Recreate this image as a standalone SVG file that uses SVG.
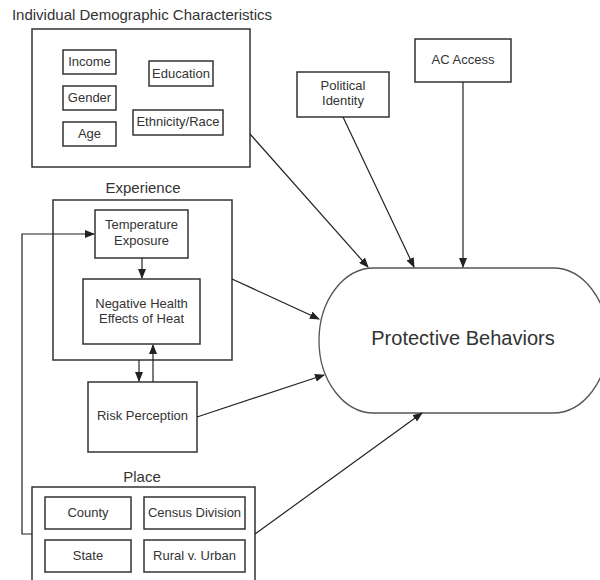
<svg xmlns="http://www.w3.org/2000/svg" width="600" height="580" viewBox="0 0 600 580">
<defs>
<marker id="ah" markerWidth="10" markerHeight="8" refX="9" refY="4" orient="auto" markerUnits="userSpaceOnUse">
<path d="M0,0 L10,4 L0,8 Z" fill="#222"/>
</marker>
<style>
.box{fill:#fff;stroke:#333;stroke-width:1.5}
.t{font-family:"Liberation Sans",Arial,sans-serif;fill:#333;text-anchor:middle}
.s{font-size:13px}
.h{font-size:15px}
.c{fill:none;stroke:#222;stroke-width:1.2}
</style>
</defs>
<rect width="600" height="580" fill="#fff"/>
<g id="demographics">
<text class="t h" x="142" y="20">Individual Demographic Characteristics</text>
<rect class="box" x="32" y="29" width="218" height="138"/>
</g>
<g id="income"><rect class="box" x="63" y="50" width="53" height="24"/><text class="t s" x="89.5" y="66">Income</text></g>
<g id="gender"><rect class="box" x="63" y="86" width="53" height="24"/><text class="t s" x="89.5" y="102">Gender</text></g>
<g id="age"><rect class="box" x="63" y="122" width="53" height="24"/><text class="t s" x="89.5" y="138">Age</text></g>
<g id="education"><rect class="box" x="149" y="61" width="64" height="25"/><text class="t s" x="181" y="78">Education</text></g>
<g id="ethnicity"><rect class="box" x="133" y="110" width="90" height="25"/><text class="t s" x="178" y="126">Ethnicity/Race</text></g>
<g id="political"><rect class="box" x="297" y="72" width="92" height="45"/><text class="t s" x="343" y="90">Political</text><text class="t s" x="343" y="105">Identity</text></g>
<g id="ac"><rect class="box" x="415" y="39" width="96" height="43"/><text class="t s" x="463" y="64">AC Access</text></g>
<g id="experience">
<text class="t h" x="143" y="193">Experience</text>
<rect class="box" x="53" y="200" width="179" height="160"/>
</g>
<g id="temperature"><rect class="box" x="95" y="210" width="93" height="48"/><text class="t s" x="141.5" y="229">Temperature</text><text class="t s" x="141.5" y="245">Exposure</text></g>
<g id="health"><rect class="box" x="83" y="279" width="117" height="65"/><text class="t s" x="141.5" y="308">Negative Health</text><text class="t s" x="141.5" y="323">Effects of Heat</text></g>
<g id="risk"><rect class="box" x="88" y="382" width="109" height="70"/><text class="t s" x="142.5" y="420">Risk Perception</text></g>
<g id="place">
<text class="t h" x="142" y="482">Place</text>
<path class="box" d="M32,580 L32,487 L255,487 L255,580"/>
</g>
<g id="county"><rect class="box" x="45" y="497" width="86" height="32"/><text class="t s" x="88" y="517">County</text></g>
<g id="census"><rect class="box" x="144" y="497" width="101" height="32"/><text class="t s" x="194.5" y="517">Census Division</text></g>
<g id="state"><rect class="box" x="45" y="540" width="86" height="32"/><text class="t s" x="88" y="560">State</text></g>
<g id="rural"><rect class="box" x="144" y="540" width="101" height="32"/><text class="t s" x="194.5" y="560">Rural v. Urban</text></g>
<g id="protective">
<rect x="319" y="268" width="289" height="145" rx="55" ry="72.5" fill="#fff" stroke="#555" stroke-width="1.3"/>
<text class="t" x="463" y="345" font-size="20">Protective Behaviors</text>
</g>
<g id="connectors">
<line class="c" x1="250" y1="134" x2="368" y2="267" marker-end="url(#ah)"/>
<line class="c" x1="343" y1="117" x2="414" y2="267" marker-end="url(#ah)"/>
<line class="c" x1="463" y1="82" x2="463" y2="267" marker-end="url(#ah)"/>
<line class="c" x1="232" y1="279" x2="319" y2="319" marker-end="url(#ah)"/>
<line class="c" x1="197" y1="417" x2="324" y2="375" marker-end="url(#ah)"/>
<line class="c" x1="255" y1="534" x2="422" y2="413" marker-end="url(#ah)"/>
<line class="c" x1="142" y1="258" x2="142" y2="278" marker-end="url(#ah)"/>
<line class="c" x1="139" y1="360" x2="139" y2="381" marker-end="url(#ah)"/>
<line class="c" x1="153" y1="382" x2="153" y2="345" marker-end="url(#ah)"/>
<polyline class="c" points="32,534 22,534 22,234 94,234" marker-end="url(#ah)"/>
</g>
</svg>
